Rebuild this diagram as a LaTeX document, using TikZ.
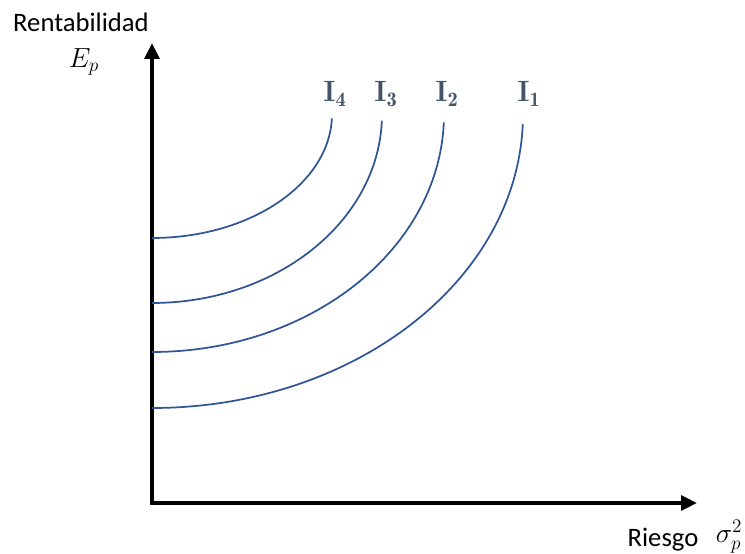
\documentclass[tikz,border=0pt]{standalone}
\usepackage{amsmath}
\usepackage{fontspec}
\setsansfont{Carlito}
\usepackage{xcolor}
\usetikzlibrary{arrows.meta,positioning,calc}

\definecolor{curveblue}{RGB}{47,85,151}
\definecolor{labelslate}{RGB}{68,84,106}

\begin{document}
\begin{tikzpicture}[x=0.75pt,y=0.75pt,
    axisline/.style={line width=3pt,-{Triangle[length=12pt,width=11pt]}},
    curve/.style={curveblue,line width=1.3pt},
    curvelabel/.style={labelslate,inner sep=1pt,font=\fontsize{22}{26}\selectfont\bfseries},
    axistext/.style={inner sep=1pt,font=\fontsize{20}{24}\sffamily}]
  \useasboundingbox (0,0) rectangle (745,553);
  \def\toprow{439}
  % --- axes ---
  \coordinate (origin) at (152,50);
  \coordinate (ytip) at (152,510);
  \coordinate (xtip) at (697,50);
  \draw[axisline] ($(origin)+(0,-1.5)$) -- (ytip);
  \draw[axisline] ($(origin)+(-1.5,0)$) -- (xtip);
  \node[axistext] (rent) at (81,531) {Rentabilidad};
  \node[inner sep=1pt,font=\fontsize{20}{24}\selectfont] (ep) at (84,491) {$E_p$};
  \node[axistext] (riesgo) at (663,13) {Riesgo};
  \node[inner sep=0pt,font=\fontsize{20}{24}\selectfont] (sigma) at (729,16) {$\sigma_p^2$};
  % --- indifference curves ---
  \foreach \name/\ys/\rx in {I4/315/180, I3/250/230, I2/201/292, I1/145/371} {
    \coordinate (\name start) at (152,\ys);
    \draw[curve] (\name start) arc[start angle=270, end angle=358,
                                   x radius=\rx, y radius=\toprow-\ys];
  }
  % labels
  \node[curvelabel] (labI4) at (335,459) {I$_{\mathbf{4}}$};
  \node[curvelabel] (labI3) at (386,459) {I$_{\mathbf{3}}$};
  \node[curvelabel] (labI2) at (447,459) {I$_{\mathbf{2}}$};
  \node[curvelabel] (labI1) at (529,459) {I$_{\mathbf{1}}$};
\end{tikzpicture}
\end{document}
